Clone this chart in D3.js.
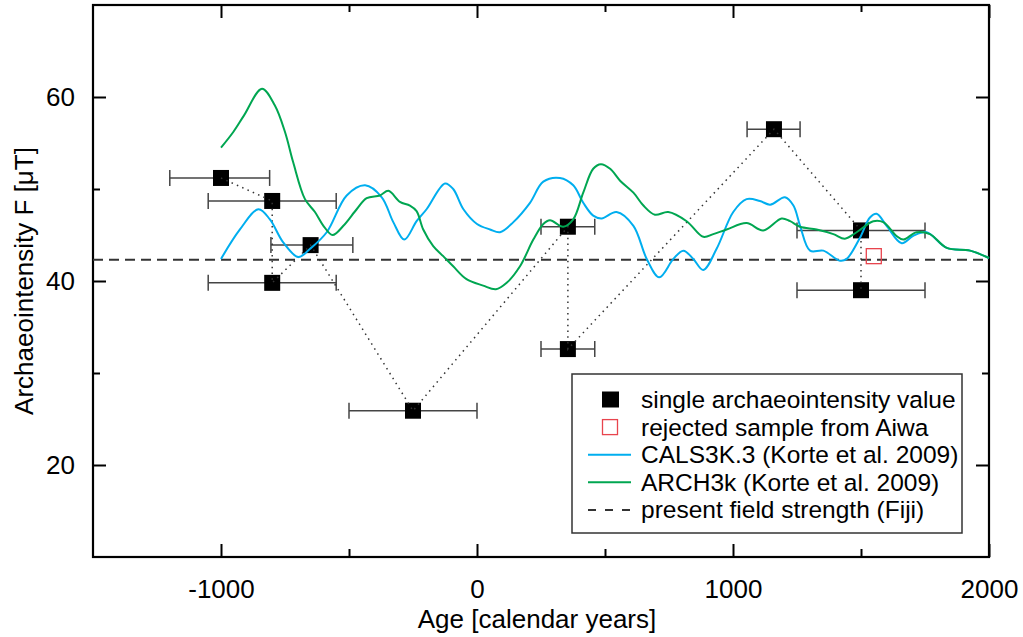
<!DOCTYPE html>
<html>
<head>
<meta charset="utf-8">
<script src="https://cdn.jsdelivr.net/npm/d3@7"></script>
<style>
  body { margin: 0; background: #fff; }
  svg { display: block; font-family: "Liberation Sans", Arial, sans-serif; }
  .axis text { font-size: 26px; fill: #000; }
  .axis line { stroke: #000; stroke-width: 2; }
  .axis path { display: none; }
</style>
</head>
<body>
<svg id="chart" width="1023" height="637"></svg>
<script>
// archaeointensity results (age, F, age range)
const ages      = [-1000, -800, -800, -650, -250, 355, 355, 1160, 1500, 1500];
const intensity = [51.2, 48.7, 39.8, 43.9, 25.9, 45.9, 32.6, 56.5, 45.5, 39.0];
const ageMin    = [-1200, -1050, -1050, -805, -500, 250, 250, 1055, 1250, 1250];
const ageMax    = [-810, -550, -550, -485, 0, 460, 460, 1262, 1750, 1750];

// rejected sample from Aiwa
const rejectedAge = [1550];
const rejectedF   = [42.7];

// present field strength (Fiji)
const presentField = 42.3;

// CALS3K.3 model curve
const calsAge = [-1000, -926, -854, -809, -757, -698, -652, -587, -509, -437, -372, -327, -284, -236, -197, -125, -93, -53, 0, 51, 90, 142, 207, 259, 324, 376, 415, 454, 487, 545, 611, 663, 712, 767, 806, 845, 884, 936, 1001, 1053, 1105, 1145, 1203, 1236, 1262, 1301, 1353, 1418, 1444, 1496, 1535, 1561, 1600, 1659, 1704, 1756, 1835, 1926, 2000];
const calsF   = [42.4, 45.6, 47.8, 46.7, 44.2, 42.6, 43.5, 45.3, 49.3, 50.4, 49.1, 46.4, 44.5, 46.5, 47.8, 50.6, 50.0, 47.8, 46.2, 45.6, 45.3, 46.4, 48.5, 50.8, 51.2, 50.4, 48.5, 47.1, 46.8, 47.5, 46.0, 42.4, 40.4, 42.4, 43.3, 42.4, 41.2, 43.5, 47.5, 48.9, 48.7, 48.3, 49.1, 48.2, 46.0, 43.3, 43.3, 42.2, 42.4, 44.7, 46.9, 47.3, 46.0, 44.1, 44.9, 45.3, 43.6, 43.3, 42.5];

// ARCH3k model curve
const archAge = [-1000, -952, -910, -840, -790, -750, -718, -672, -633, -600, -564, -522, -470, -431, -379, -346, -301, -262, -236, -210, -171, -132, -93, -41, 24, 74, 116, 168, 220, 259, 285, 337, 376, 415, 454, 484, 520, 559, 611, 650, 695, 747, 819, 884, 923, 975, 1053, 1118, 1190, 1223, 1262, 1327, 1392, 1437, 1483, 1548, 1587, 1639, 1665, 1717, 1769, 1835, 1926, 2000];
const archF   = [54.5, 56.2, 58.0, 60.9, 59.1, 56.2, 52.9, 48.9, 47.5, 46.0, 45.0, 46.0, 47.8, 49.0, 49.3, 49.8, 48.6, 48.2, 47.6, 45.6, 43.8, 42.7, 41.6, 40.2, 39.5, 39.1, 39.8, 41.6, 44.5, 46.2, 46.6, 45.9, 46.7, 49.6, 52.2, 52.7, 52.2, 50.9, 49.6, 48.2, 47.2, 47.5, 46.5, 44.8, 45.1, 45.6, 46.3, 45.5, 46.8, 46.5, 45.9, 45.6, 45.1, 44.6, 45.3, 46.5, 46.4, 44.9, 44.5, 45.3, 45.1, 43.6, 43.3, 42.5];

const xMajor = [-1000, 0, 1000, 2000];
const xMinor = [-500, 500, 1500];
const yMajor = [20, 40, 60];
const yMinor = [30, 50];

const legendItems = [
    {label: "single archaeointensity value", type: "filled"},
    {label: "rejected sample from Aiwa", type: "open"},
    {label: "CALS3K.3 (Korte et al. 2009)", type: "cals"},
    {label: "ARCH3k (Korte et al. 2009)", type: "arch"},
    {label: "present field strength (Fiji)", type: "dash"}
];

const colBlue = "#00aeef", colGreen = "#00a651", colRed = "#e8444d";

let svg = d3.select("#chart"),
    margin = {top: 5, right: 34, bottom: 80, left: 93},
    width = 1023 - margin.left - margin.right,
    height = 637 - margin.top - margin.bottom,
    x = d3.scaleLinear().domain([-1500, 2000]).range([0, width]),
    y = d3.scaleLinear().domain([10, 70]).range([height, 0]),
    g = svg.append("g").attr("transform", "translate(" + margin.left + "," + margin.top + ")");

// *** Axes (ticks point inward on all four sides)
g.append("g").attr("class", "axis")
    .attr("transform", "translate(0," + height + ")")
    .call(d3.axisBottom(x).tickValues(xMajor).tickSizeInner(-13).tickSizeOuter(0).tickPadding(23).tickFormat(d => String(d)));
g.append("g").attr("class", "axis")
    .attr("transform", "translate(0," + height + ")")
    .call(d3.axisBottom(x).tickValues(xMinor).tickSizeInner(-8).tickSizeOuter(0).tickFormat(""));
g.append("g").attr("class", "axis")
    .call(d3.axisTop(x).tickValues(xMajor).tickSizeInner(-13).tickSizeOuter(0).tickFormat(""));
g.append("g").attr("class", "axis")
    .call(d3.axisTop(x).tickValues(xMinor).tickSizeInner(-7).tickSizeOuter(0).tickFormat(""));
g.append("g").attr("class", "axis")
    .call(d3.axisLeft(y).tickValues(yMajor).tickSizeInner(-13).tickSizeOuter(0).tickPadding(18));
g.append("g").attr("class", "axis")
    .call(d3.axisLeft(y).tickValues(yMinor).tickSizeInner(-7).tickSizeOuter(0).tickFormat(""));
g.append("g").attr("class", "axis")
    .attr("transform", "translate(" + width + ",0)")
    .call(d3.axisRight(y).tickValues(yMajor).tickSizeInner(-13).tickSizeOuter(0).tickFormat(""));
g.append("g").attr("class", "axis")
    .attr("transform", "translate(" + width + ",0)")
    .call(d3.axisRight(y).tickValues(yMinor).tickSizeInner(-7).tickSizeOuter(0).tickFormat(""));

// frame
g.append("rect")
    .attr("width", width).attr("height", height)
    .attr("fill", "none").attr("stroke", "#000").attr("stroke-width", 2.2);

// axis labels
svg.append("text")
    .attr("x", margin.left + width / 2 - 4).attr("y", 628)
    .attr("text-anchor", "middle").style("font-size", "26px")
    .text("Age [calendar years]");
svg.append("text")
    .attr("transform", "translate(33," + (margin.top + height / 2) + ") rotate(-90)")
    .attr("text-anchor", "middle").style("font-size", "26px")
    .text("Archaeointensity F [\u03bcT]");

// *** Present field (dashed)
g.append("line")
    .attr("x1", 0).attr("x2", width)
    .attr("y1", y(presentField)).attr("y2", y(presentField))
    .attr("stroke", "#333").attr("stroke-width", 2).attr("stroke-dasharray", "10,6");

// *** Data points
let pts = ages.map((a, i) => ({age: a, f: intensity[i], lo: ageMin[i], hi: ageMax[i]}));

// error bars
let eb = g.append("g").attr("class", "errbars");
eb.selectAll("line.err").data(pts).enter().append("line")
    .attr("class", "err")
    .attr("x1", d => x(d.lo)).attr("x2", d => x(d.hi))
    .attr("y1", d => y(d.f)).attr("y2", d => y(d.f))
    .attr("stroke", "#444").attr("stroke-width", 1.5);
eb.selectAll("line.cap-lo").data(pts).enter().append("line")
    .attr("class", "cap-lo")
    .attr("x1", d => x(d.lo)).attr("x2", d => x(d.lo))
    .attr("y1", d => y(d.f) - 8).attr("y2", d => y(d.f) + 8)
    .attr("stroke", "#444").attr("stroke-width", 1.5);
eb.selectAll("line.cap-hi").data(pts).enter().append("line")
    .attr("class", "cap-hi")
    .attr("x1", d => x(d.hi)).attr("x2", d => x(d.hi))
    .attr("y1", d => y(d.f) - 8).attr("y2", d => y(d.f) + 8)
    .attr("stroke", "#444").attr("stroke-width", 1.5);

// squares
g.append("g").selectAll("rect.pt").data(pts).enter().append("rect")
    .attr("class", "pt")
    .attr("x", d => x(d.age) - 8).attr("y", d => y(d.f) - 8)
    .attr("width", 16).attr("height", 16)
    .attr("fill", "#000");

// dotted connection
g.append("path")
    .datum(pts)
    .attr("fill", "none").attr("stroke", "#333").attr("stroke-width", 1.5)
    .attr("stroke-dasharray", "1.5,4.3")
    .attr("d", d3.line().x(d => x(d.age)).y(d => y(d.f)));

// rejected sample
g.append("g").selectAll("rect.rej").data(rejectedAge).enter().append("rect")
    .attr("class", "rej")
    .attr("x", (d, i) => x(d) - 7.5).attr("y", (d, i) => y(rejectedF[i]) - 7.5)
    .attr("width", 15).attr("height", 15)
    .attr("fill", "none").attr("stroke", colRed).attr("stroke-width", 1.3);

// *** Model curves
let curve = d3.line().curve(d3.curveCatmullRom.alpha(0.5))
    .x(d => x(d[0])).y(d => y(d[1]));
g.append("path")
    .datum(calsAge.map((a, i) => [a, calsF[i]]))
    .attr("fill", "none").attr("stroke", colBlue).attr("stroke-width", 2)
    .attr("d", curve);
g.append("path")
    .datum(archAge.map((a, i) => [a, archF[i]]))
    .attr("fill", "none").attr("stroke", colGreen).attr("stroke-width", 2)
    .attr("d", curve);

// *** Legend
let leg = svg.append("g").attr("transform", "translate(572,374)");
leg.append("rect")
    .attr("width", 390).attr("height", 159)
    .attr("fill", "#fff").attr("stroke", "#333").attr("stroke-width", 1.5);
let rows = leg.selectAll("g.row").data(legendItems).enter().append("g")
    .attr("class", "row")
    .attr("transform", (d, i) => "translate(0," + (25.5 + i * 27.6) + ")");
rows.append("text")
    .attr("x", 69).attr("dy", "0.35em")
    .style("font-size", "24.5px")
    .text(d => d.label);
rows.filter(d => d.type === "filled").append("rect")
    .attr("x", 30).attr("y", -8).attr("width", 17).attr("height", 16).attr("fill", "#000");
rows.filter(d => d.type === "open").append("rect")
    .attr("x", 30.5).attr("y", -7.5).attr("width", 15).attr("height", 15)
    .attr("fill", "none").attr("stroke", colRed).attr("stroke-width", 1.3);
rows.filter(d => d.type === "cals" || d.type === "arch").append("line")
    .attr("x1", 16).attr("x2", 59)
    .attr("stroke", d => d.type === "cals" ? colBlue : colGreen).attr("stroke-width", 2);
rows.filter(d => d.type === "dash").append("line")
    .attr("x1", 16).attr("x2", 58)
    .attr("stroke", "#333").attr("stroke-width", 2).attr("stroke-dasharray", "8,9");
</script>
</body>
</html>
